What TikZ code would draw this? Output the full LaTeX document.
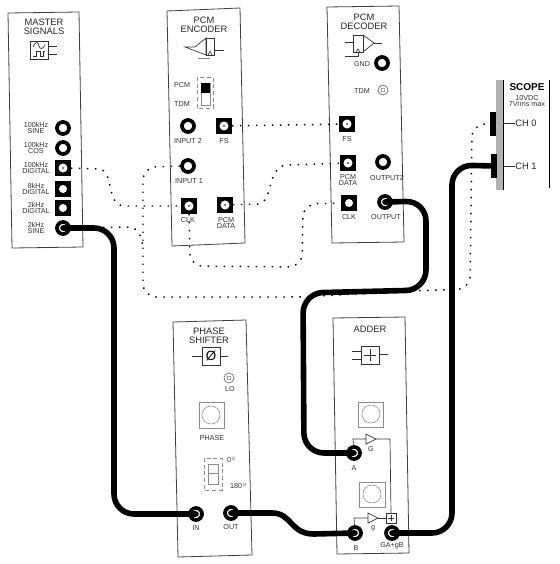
\documentclass[tikz,border=0pt]{standalone}
\usepackage{fontspec}
\setmainfont{Liberation Sans}
\tikzset{
    panel/.style={draw=black!75, line width=0.6pt, fill=white},
    thinwire/.style={draw=black!80, line width=0.5pt},
    faint/.style={draw=black!45, line width=0.4pt},
    lbl/.style={font=\fontsize{5.4}{5}\selectfont, inner sep=0pt, align=center, text=black!80},
    heading/.style={font=\fontsize{7}{6.6}\selectfont, inner sep=0pt, align=center, text=black!85},
    roundjack/.style={circle, draw=black, fill=white, line width=2.8pt, minimum size=9pt, inner sep=0pt},
    squarejack/.style={rectangle, fill=black, minimum size=11.5pt, inner sep=0pt,
        path picture={\fill[white] (path picture bounding box.center) circle (3pt);}},
    dotjack/.style={rectangle, fill=black, minimum size=11.5pt, inner sep=0pt,
        path picture={\fill[white] (path picture bounding box.center) circle (3.4pt);
            \fill[black] (path picture bounding box.center) circle (0.6pt);}},
    smalljack/.style={circle, draw=black!60, line width=0.5pt, minimum size=7.5pt, inner sep=0pt,
        path picture={\draw[black!60, line width=0.4pt] (path picture bounding box.center) circle (1.5pt);}},
    patch/.style={line width=1.1pt, black, dash pattern=on 1.1pt off 4.9pt},
    cable/.style={line width=4.2pt, black, line cap=round, rounded corners=15pt},
}

\begin{document}
\begin{tikzpicture}[x=0.75pt, y=-0.75pt]
    \useasboundingbox (0,0) rectangle (560,564);

    % Panels
    \draw[panel] (8,13) -- (79,12) -- (83,247) -- (12,248) -- cycle;
    \draw[panel] (167,11) -- (240,8) -- (245,243) -- (172,246) -- cycle;
    \draw[panel] (327,7) -- (399,6) -- (404,242) -- (332,243) -- cycle;
    \draw[panel] (173,322) -- (246,320) -- (252,555) -- (178,557) -- cycle;
    \draw[panel] (333,318) -- (405,317) -- (409,553) -- (337,554) -- cycle;

    % Master signals
    \node[heading] (mtitle) at (44,27) {MASTER\\SIGNALS};
    \draw[thinwire] (30,41) rectangle (48,59);
    \draw[thinwire] (48,46) -- (57,46) (48,54) -- (57,54);
    \draw[thinwire] (33,47) .. controls (36,41) and (38,41) .. (39,46) .. controls (40,50) and (43,49) .. (45,45);
    \draw[thinwire] (33,56) -- (36,56) -- (36,51) -- (40,51) -- (40,56) -- (43,56) -- (43,51) -- (45,51);
    \foreach \nm/\yy/\kind/\txt in {a/128/roundjack/{100kHz\\SINE}, b/148/roundjack/{100kHz\\COS},
        c/168/dotjack/{100kHz\\DIGITAL}, d/189/squarejack/{8kHz\\DIGITAL},
        e/208/squarejack/{2kHz\\DIGITAL}, f/228/roundjack/{2kHz\\SINE}} {
        \node[\kind] (m\nm) at (63,\yy) {};
        \node[lbl] (mlbl\nm) at (36,\yy) {\txt};
    }

    % PCM encoder
    \node[heading] (etitle) at (204,25) {PCM\\ENCODER};
    \draw[thinwire] (185,47) -- (195,47) -- (206,38) -- (206,55) -- cycle;
    \draw[thinwire] (206,38) rectangle (214,55);
    \draw[thinwire] (214,50) -- (224,50);
    \draw[thinwire] (208,55) -- (210,51) -- (212,55);
    \draw[thinwire, black!50] (198,58) -- (210,58);
    \draw[faint, densely dashed] (197,77) rectangle (213,108);
    \draw[faint] (201,83) rectangle (210,105);
    \fill[black] (201,83) rectangle (210,93);
    \node[lbl] (epcm) at (182,85) {PCM};
    \node[lbl] (etdm) at (182,104) {TDM};
    \node[roundjack] (ein2) at (188,126) {};
    \node[dotjack] (efs) at (224,126) {};
    \node[roundjack] (ein1) at (188,166) {};
    \node[dotjack] (eclk) at (189,206) {};
    \node[dotjack] (edata) at (225,205) {};
    \node[lbl] (lblein2) at (188,141) {INPUT 2};
    \node[lbl] (lblefs) at (224,141) {FS};
    \node[lbl] (lblein1) at (189,181) {INPUT 1};
    \node[lbl] (lbleclk) at (188,220) {CLK};
    \node[lbl] (lbledata) at (226,223) {PCM\\DATA};

    % PCM decoder
    \node[heading] (dtitle) at (364,22) {PCM\\DECODER};
    \draw[thinwire] (353,35) rectangle (363,52);
    \draw[thinwire] (363,35) -- (374,43) -- (363,52);
    \draw[thinwire] (374,43) -- (382,43) (345,42) -- (353,42);
    \draw[thinwire] (345,56) -- (358,56) -- (358,52);
    \draw[thinwire] (356,52) -- (358,49) -- (360,52);
    \node[roundjack] (dgnd) at (382,63) {};
    \node[lbl] (lbldgnd) at (362,64) {GND};
    \node[smalljack] (dtdm) at (383,90) {};
    \node[lbl] (lbldtdm) at (362,91) {TDM};
    \node[dotjack] (dfs) at (347,124) {};
    \node[dotjack] (ddata) at (348,163) {};
    \node[roundjack] (dout2) at (383,162) {};
    \node[squarejack] (dclk) at (349,203) {};
    \node[roundjack] (dout) at (385,202) {};
    \node[lbl] (lbldfs) at (347,139) {FS};
    \node[lbl] (lblddata) at (348,180) {PCM\\DATA};
    \node[lbl] (lbldout2) at (387,178) {OUTPUT2};
    \node[lbl] (lbldclk) at (349,217) {CLK};
    \node[lbl] (lbldout) at (386,217) {OUTPUT};

    % Phase shifter
    \node[heading] (ptitle) at (209,336) {PHASE\\SHIFTER};
    \draw[thinwire] (202,347) rectangle (220,365);
    \draw[thinwire] (192,356) -- (202,356) (220,356) -- (228,356);
    \node[font=\fontsize{10}{10}\selectfont, inner sep=0pt] (psym) at (211,356) {Ø};
    \node[smalljack] (plo) at (229,378) {};
    \node[lbl] (lblplo) at (230,389) {LO};
    \draw[faint] (199,402) rectangle (224,428);
    \draw[faint] (211,415) circle (9);
    \node[lbl] (lblphase) at (212,438) {PHASE};
    \draw[faint, densely dashed] (204,458) rectangle (222,490);
    \draw[faint] (208,464) rectangle (218,484) (208,473) -- (218,473);
    \node[lbl] (lblzero) at (232,460) {0$^{\circ}$};
    \node[lbl] (lbloneeighty) at (239,486) {180$^{\circ}$};
    \node[roundjack] (pin) at (196,514) {};
    \node[roundjack] (pout) at (231,513) {};
    \node[lbl] (lblpin) at (196,528) {IN};
    \node[lbl] (lblpout) at (231,527) {OUT};

    % Adder
    \node[heading] (atitle) at (370,329) {ADDER};
    \draw[thinwire] (361,346) rectangle (379,364);
    \draw[thinwire] (352,351) -- (361,351) (352,359) -- (361,359) (379,354) -- (388,354);
    \draw[thinwire] (370,349) -- (370,361) (364,355) -- (376,355);
    \draw[faint] (358,402) rectangle (383,427);
    \draw[faint] (371,414) circle (9);
    \draw[faint] (359,482) rectangle (385,507);
    \draw[faint] (372,494) circle (9);
    \node[roundjack] (aa) at (354,453) {};
    \node[roundjack] (ab) at (355,533) {};
    \node[roundjack] (aout) at (392,533) {};
    \draw[thinwire] (366,434) -- (376,439) -- (366,444) -- cycle;
    \draw[thinwire] (368,513) -- (378,518) -- (368,523) -- cycle;
    \draw[thinwire] (386,513) rectangle (396,523);
    \draw[thinwire] (388,518) -- (394,518) (391,515) -- (391,521);
    \draw[thinwire] (aa) -- (353,439) -- (366,439);
    \draw[thinwire] (376,439) -- (390,439) -- (391,513);
    \draw[thinwire] (ab) -- (354,518) -- (368,518);
    \draw[thinwire] (378,518) -- (386,518);
    \node[lbl] (lblgain) at (371,449) {G};
    \node[lbl] (lblg) at (373,528) {g};
    \node[lbl] (lblaa) at (354,468) {A};
    \node[lbl] (lblab) at (356,548) {B};
    \node[lbl] (lblaout) at (392,546) {GA+gB};

    % Scope
    \fill[black!30] (496,80) rectangle (503,190);
    \draw[black, line width=0.7pt] (503,80) -- (503,190);
    \draw[black, line width=0.7pt] (549,80) -- (549,188);
    \node[font=\fontsize{7.5}{7.5}\selectfont\bfseries, inner sep=0pt] (stitle) at (527,87) {SCOPE};
    \node[lbl] (slimit) at (527,101) {10VDC\\7Vrms max};
    \node[rectangle, fill=black, minimum width=4pt, minimum height=18pt, inner sep=0pt] (chz) at (493,124) {};
    \node[rectangle, fill=black, minimum width=4pt, minimum height=18pt, inner sep=0pt] (cho) at (494,166) {};
    \node[heading] (lblchz) at (526,123) {CH 0};
    \node[heading] (lblcho) at (526,166) {CH 1};
    \draw[thinwire] (503,123) -- (lblchz);
    \draw[thinwire] (503,166) -- (lblcho);

    % Dotted patch leads
    \draw[patch] (mc) -- (100,169) .. controls (114,172) and (106,205) .. (124,206) -- (eclk);
    \draw[patch] (mf) -- (130,227) .. controls (138,228) and (143,238) .. (143,250);
    \draw[patch, rounded corners=10pt] (ein1) -- (143,167) -- (143,297) -- (300,297) -- (410,291) -- (470,289) -- (472,124) -- (chz);
    \draw[patch, rounded corners=10pt] (eclk) -- (190,266) -- (302,267) -- (303,204) -- (dclk);
    \draw[patch] (edata) -- (258,204) .. controls (274,202) and (266,168) .. (286,165) -- (ddata);
    \draw[patch] (efs) -- (dfs);

    % Thick leads
    \draw[cable] (mf.center) -- (114,228) -- (114,514) -- (pin.center);
    \draw[cable, sharp corners] (pout.center) -- (272,513) .. controls (292,513) and (290,534) .. (314,534) -- (ab.center);
    \draw[cable] (aa.center) -- (304,453) -- (303,293) -- (426,290) -- (426,201) -- (dout.center);
    \draw[cable] (aout.center) -- (452,533) -- (452,165) -- (cho.center);
\end{tikzpicture}
\end{document}
